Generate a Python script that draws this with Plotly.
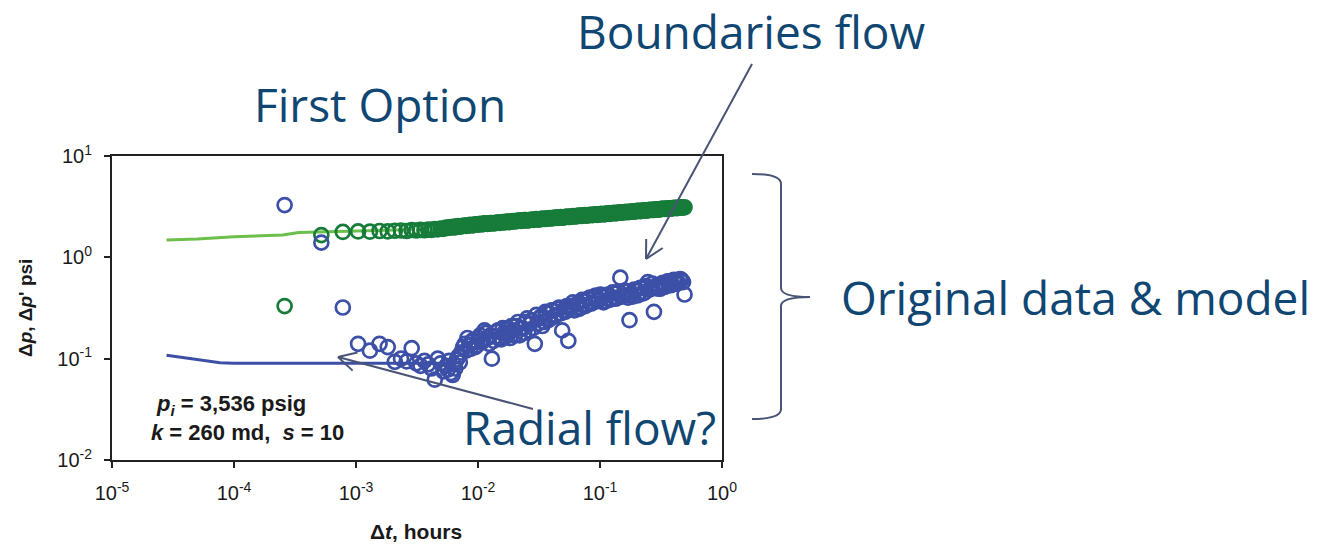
import math
import plotly.graph_objects as go

# ---------------- data ----------------
# early samples (uniform acquisition steps)
dt_early = [0.00026, 0.00052, 0.00078, 0.00104, 0.0013, 0.00156, 0.00182, 0.00208, 0.00234, 0.0026,
            0.00286, 0.00312, 0.00338, 0.00364, 0.0039, 0.00416, 0.00442, 0.00468, 0.00494, 0.0052]
dp_green_early = [0.33, 1.66, 1.78, 1.80, 1.79, 1.82, 1.80, 1.83, 1.84, 1.82,
                  1.86, 1.84, 1.87, 1.85, 1.88, 1.87, 1.90, 1.89, 1.92, 1.91]
dp_blue_early = [3.28, 1.40, 0.32, 0.14, 0.12, 0.14, 0.13, 0.093, 0.10, 0.094,
                 0.127, 0.09, 0.085, 0.095, 0.088, 0.08, 0.062, 0.10, 0.09, 0.075]

# later samples (dense part)
dt_late = [0.0055, 0.00565, 0.0058, 0.006, 0.0062, 0.00635, 0.0065, 0.0067, 0.0069, 0.0071,
           0.0073, 0.00755, 0.0078, 0.008, 0.0082, 0.00845, 0.0087, 0.00895, 0.0092, 0.0095,
           0.0098, 0.0101, 0.0104, 0.0107, 0.011, 0.0113, 0.0116, 0.01195, 0.0123, 0.01265,
           0.013, 0.0134, 0.0138, 0.0142, 0.0146, 0.01505, 0.0155, 0.01595, 0.0164, 0.0169,
           0.0174, 0.0179, 0.0184, 0.01895, 0.0195, 0.02005, 0.0206, 0.02125, 0.0219, 0.02255,
           0.0232, 0.02385, 0.0245, 0.02525, 0.026, 0.02675, 0.0275, 0.02835, 0.0292, 0.03005,
           0.0309, 0.0318, 0.0327, 0.0337, 0.0347, 0.0357, 0.0367, 0.0378, 0.0389, 0.04005,
           0.0412, 0.04245, 0.0437, 0.045, 0.0463, 0.04765, 0.049, 0.05045, 0.0519, 0.05345,
           0.055, 0.05665, 0.0583, 0.06, 0.0617, 0.06355, 0.0654, 0.06735, 0.0693, 0.07135,
           0.0734, 0.0756, 0.0778, 0.0801, 0.0824, 0.08485, 0.0873, 0.0899, 0.0925, 0.09525,
           0.098, 0.1009, 0.1038, 0.1069, 0.11, 0.11325, 0.1165, 0.11995, 0.1234, 0.12705,
           0.1307, 0.1346, 0.1385, 0.1426, 0.1467, 0.15105, 0.1554, 0.16005, 0.1647, 0.1696,
           0.1745, 0.17965, 0.1848, 0.1903, 0.1958, 0.20165, 0.2075, 0.21365, 0.2198, 0.2263,
           0.2328, 0.23975, 0.2467, 0.254, 0.2613, 0.26905, 0.2768, 0.28505, 0.2933, 0.302,
           0.3107, 0.31995, 0.3292, 0.33895, 0.3487, 0.35905, 0.3694, 0.3804, 0.3914, 0.403,
           0.4146, 0.42695, 0.4393, 0.45235, 0.4654, 0.4792, 0.493]

dp_green_late = [1.97, 1.95, 1.96, 1.98, 2.00, 1.97, 1.99, 2.02, 2.03, 2.01,
                 2.02, 2.05, 2.06, 2.04, 2.05, 2.08, 2.09, 2.07, 2.08, 2.11,
                 2.12, 2.10, 2.14, 2.12, 2.13, 2.16, 2.16, 2.14, 2.15, 2.18,
                 2.18, 2.16, 2.17, 2.20, 2.20, 2.19, 2.22, 2.23, 2.21, 2.24,
                 2.25, 2.23, 2.24, 2.27, 2.28, 2.26, 2.27, 2.30, 2.30, 2.29,
                 2.31, 2.33, 2.33, 2.31, 2.32, 2.35, 2.35, 2.34, 2.36, 2.38,
                 2.37, 2.36, 2.39, 2.41, 2.40, 2.39, 2.41, 2.43, 2.44, 2.42,
                 2.43, 2.46, 2.46, 2.45, 2.47, 2.49, 2.48, 2.47, 2.50, 2.52,
                 2.51, 2.50, 2.53, 2.55, 2.54, 2.53, 2.56, 2.58, 2.56, 2.57,
                 2.59, 2.61, 2.58, 2.60, 2.62, 2.63, 2.61, 2.64, 2.65, 2.63,
                 2.64, 2.67, 2.68, 2.66, 2.67, 2.70, 2.71, 2.69, 2.71, 2.73,
                 2.74, 2.72, 2.74, 2.77, 2.78, 2.76, 2.77, 2.80, 2.81, 2.79,
                 2.80, 2.83, 2.84, 2.82, 2.84, 2.87, 2.87, 2.86, 2.87, 2.90,
                 2.91, 2.89, 2.91, 2.94, 2.94, 2.93, 2.94, 2.97, 2.98, 2.96,
                 2.98, 3.01, 3.02, 3.00, 3.01, 3.04, 3.05, 3.03, 3.04, 3.07,
                 3.08, 3.06, 3.08, 3.11, 3.12, 3.10, 3.12]

dp_blue_late = [0.085, 0.078, 0.095, 0.072, 0.069, 0.088, 0.08, 0.098, 0.105, 0.092,
                0.115, 0.13, 0.14, 0.12, 0.16, 0.135, 0.125, 0.15, 0.15, 0.13,
                0.135, 0.16, 0.17, 0.145, 0.15, 0.19, 0.18, 0.16, 0.14, 0.17,
                0.10, 0.15, 0.165, 0.185, 0.19, 0.16, 0.155, 0.20, 0.18, 0.165,
                0.20, 0.18, 0.16, 0.21, 0.19, 0.17, 0.21, 0.23, 0.17, 0.20,
                0.20, 0.18, 0.23, 0.25, 0.19, 0.22, 0.24, 0.20, 0.14, 0.27,
                0.22, 0.25, 0.26, 0.21, 0.23, 0.29, 0.28, 0.24, 0.25, 0.30,
                0.30, 0.26, 0.27, 0.31, 0.32, 0.28, 0.19, 0.30, 0.29, 0.33,
                0.15, 0.31, 0.33, 0.36, 0.30, 0.34, 0.35, 0.31, 0.32, 0.38,
                0.37, 0.33, 0.34, 0.39, 0.40, 0.35, 0.36, 0.41, 0.42, 0.37,
                0.38, 0.43, 0.41, 0.36, 0.37, 0.42, 0.43, 0.38, 0.39, 0.45,
                0.44, 0.39, 0.40, 0.46, 0.63, 0.41, 0.42, 0.47, 0.46, 0.40,
                0.24, 0.43, 0.41, 0.48, 0.47, 0.42, 0.43, 0.50, 0.50, 0.44,
                0.45, 0.52, 0.57, 0.48, 0.49, 0.55, 0.29, 0.50, 0.53, 0.49,
                0.49, 0.55, 0.56, 0.51, 0.52, 0.58, 0.58, 0.53, 0.54, 0.60,
                0.59, 0.55, 0.56, 0.61, 0.60, 0.57, 0.43]

model_t_green = [2.8e-5, 5e-5, 1e-4, 2.5e-4, 3.4e-4, 5e-4, 1e-3, 3e-3]
model_green = [1.48, 1.52, 1.60, 1.66, 1.76, 1.78, 1.82, 1.88]
model_t_blue = [2.8e-5, 5e-5, 7.7e-5, 1e-4, 1e-3, 5e-3]
model_blue = [0.108, 0.098, 0.091, 0.090, 0.090, 0.090]

x_ticks = [1e-5, 1e-4, 1e-3, 1e-2, 1e-1, 1]
x_ticktext = ["10<sup>-5</sup>", "10<sup>-4</sup>", "10<sup>-3</sup>", "10<sup>-2</sup>", "10<sup>-1</sup>", "10<sup>0</sup>"]
y_ticks = [1e-2, 1e-1, 1, 10]
y_ticktext = ["10<sup>-2</sup>", "10<sup>-1</sup>", "10<sup>0</sup>", "10<sup>1</sup>"]

# ---------------- layout geometry ----------------
W, H = 1337, 545
L, R, T, B = 112, 615, 156, 85
PW, PH = W - L - R, H - T - B


def px(x):
    return (x - L) / PW


def py(y):
    return (H - B - y) / PH


GREEN_LINE = "#6cbf4a"
GREEN_MK = "#177c3a"
BLUE_LINE = "#3c4fa6"
BLUE_MK = "#3d50a7"
SLIDE = "#0f4672"
ARROW = "#4a5475"
INK = "#1a1a1a"

dt_all = dt_early + dt_late
fig = go.Figure()
fig.add_trace(go.Scatter(x=model_t_green, y=model_green, mode="lines",
                         line=dict(color=GREEN_LINE, width=3), hoverinfo="skip"))
fig.add_trace(go.Scatter(x=model_t_blue, y=model_blue, mode="lines",
                         line=dict(color=BLUE_LINE, width=3), hoverinfo="skip"))
fig.add_trace(go.Scatter(x=dt_all, y=dp_green_early + dp_green_late, mode="markers",
                         marker=dict(symbol="circle-open", size=14, color=GREEN_MK,
                                     line=dict(width=2.7, color=GREEN_MK))))
fig.add_trace(go.Scatter(x=dt_all, y=dp_blue_early + dp_blue_late, mode="markers",
                         marker=dict(symbol="circle-open", size=14, color=BLUE_MK,
                                     line=dict(width=2.7, color=BLUE_MK))))

shapes = []


def seg(x0, y0, x1, y1, color=ARROW, width=2):
    shapes.append(dict(type="line", xref="paper", yref="paper",
                       x0=px(x0), y0=py(y0), x1=px(x1), y1=py(y1),
                       line=dict(color=color, width=width)))


def arrow(tip, tail, arm=20, ang=28):
    seg(tail[0], tail[1], tip[0], tip[1])
    dx, dy = tail[0] - tip[0], tail[1] - tip[1]
    n = math.hypot(dx, dy)
    ux, uy = dx / n, dy / n
    for s in (1, -1):
        a = math.radians(ang * s)
        rx = ux * math.cos(a) - uy * math.sin(a)
        ry = ux * math.sin(a) + uy * math.cos(a)
        seg(tip[0], tip[1], tip[0] + arm * rx, tip[1] + arm * ry)


arrow((646, 259), (752, 64))
arrow((338, 357), (533, 409))

# right curly brace
bx0, bx1, bx2 = 752, 781, 810
by0, bym, by1 = 174, 297, 419
path = (f"M {px(bx0)},{py(by0)} Q {px(bx1)},{py(by0)} {px(bx1)},{py(by0 + 10)} "
        f"L {px(bx1)},{py(bym - 9)} Q {px(bx1)},{py(bym)} {px(bx2)},{py(bym)} "
        f"Q {px(bx1)},{py(bym)} {px(bx1)},{py(bym + 9)} "
        f"L {px(bx1)},{py(by1 - 10)} Q {px(bx1)},{py(by1)} {px(bx0)},{py(by1)}")
shapes.append(dict(type="path", xref="paper", yref="paper", path=path,
                   line=dict(color=ARROW, width=2)))

slide_font = dict(family="Open Sans", size=46, color=SLIDE)
ann = []


def text(s, x, y, font, xanchor="center", yanchor="middle", angle=0):
    ann.append(dict(text=s, x=px(x), y=py(y), xref="paper", yref="paper", showarrow=False,
                    xanchor=xanchor, yanchor=yanchor, font=font, textangle=angle))


text("First Option", 380, 104, slide_font)
text("Boundaries flow", 751, 31, slide_font)
text("Original data &amp; model", 1075, 297, slide_font)
text("Radial flow?", 589, 427, slide_font)

lab_font = dict(family="Liberation Sans", size=22, color=INK)
text("<b><i>p</i><sub><i>i</i></sub> = 3,536 psig</b>", 154, 405, lab_font, xanchor="left")
text("<b><i>k</i> = 260 md, &nbsp;<i>s</i> = 10</b>", 149, 432, lab_font, xanchor="left")
text("<b>Δ<i>t</i>, hours</b>", 416, 531, dict(family="Liberation Sans", size=21, color=INK))
text("<b>Δ<i>p</i>, Δ<i>p</i>' psi</b>", 25, 308, dict(family="Liberation Sans", size=19, color=INK),
     angle=-90)

axis_common = dict(type="log", showgrid=False, zeroline=False, showline=True, linecolor="#222",
                   linewidth=2, mirror=True, ticks="outside", ticklen=6, tickwidth=1.5,
                   tickcolor="#222", tickfont=dict(family="Liberation Sans", size=20, color=INK))

fig.update_layout(
    width=W, height=H, margin=dict(l=L, r=R, t=T, b=B, pad=0),
    paper_bgcolor="white", plot_bgcolor="white", showlegend=False,
    xaxis=dict(range=[-5, 0], tickvals=x_ticks, ticktext=x_ticktext, ticklabelstandoff=8, **axis_common),
    yaxis=dict(range=[-2, 1], tickvals=y_ticks, ticktext=y_ticktext, ticklabelstandoff=8, **axis_common),
    shapes=shapes, annotations=ann,
)

fig.write_html("out.html", config={"displayModeBar": False})
